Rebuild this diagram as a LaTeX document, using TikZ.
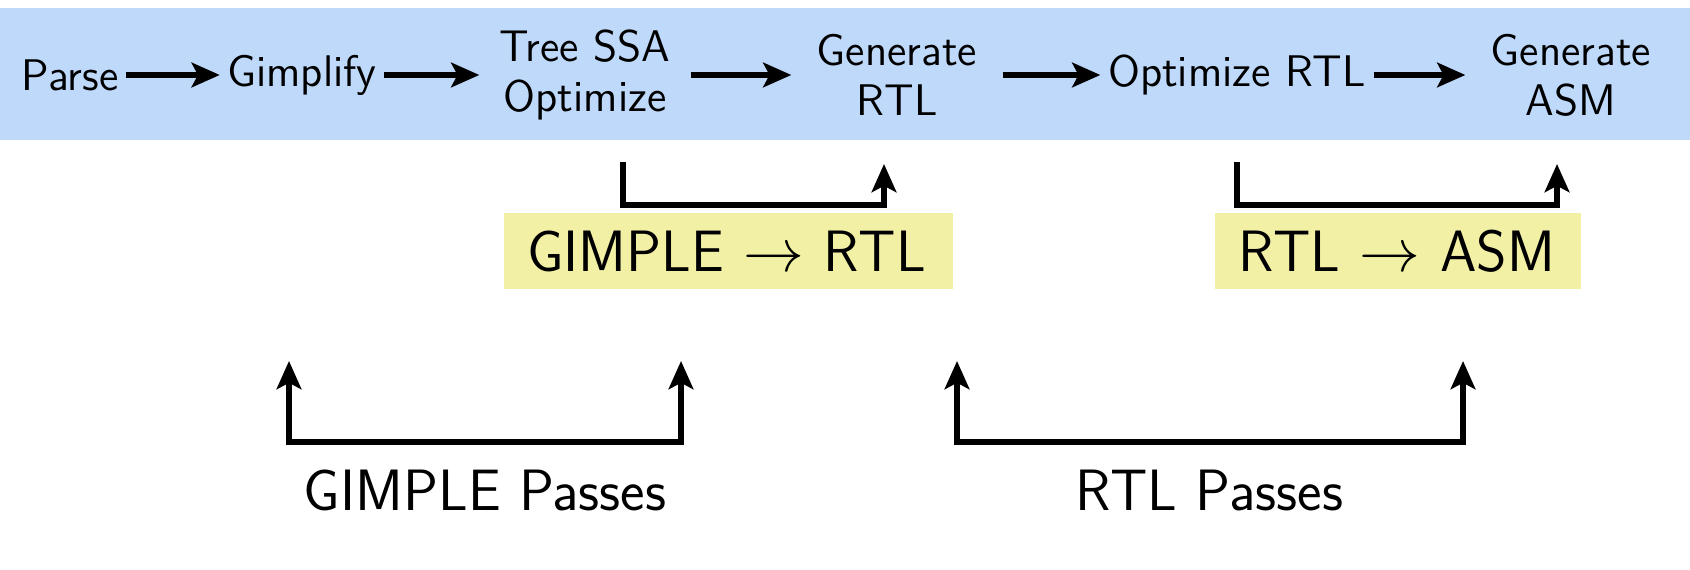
\documentclass[tikz,border=0pt]{standalone}
\usetikzlibrary{arrows.meta,positioning}
\definecolor{bandblue}{RGB}{191,217,250}
\definecolor{boxyellow}{RGB}{242,240,165}

\begin{document}
\begin{tikzpicture}[>={Stealth[length=8pt,width=7pt,inset=1.8pt]},
        font=\sffamily\fontsize{12.6}{14.2}\selectfont,
        stage/.style={inner sep=2pt},
        widestage/.style={minimum width=2.1cm, align=center, inner sep=0pt},
        flow/.style={->, line width=1.45pt},
        pass/.style={->, line width=1.8pt},
        bigtext/.style={font=\sffamily\fontsize{16.6}{19}\selectfont},
        trans/.style={bigtext, fill=boxyellow, minimum height=0.76cm,
            inner xsep=0.23cm, inner ysep=0pt, align=left}]
        \useasboundingbox (0,0) rectangle (16.9,-5.7);
        \node[fill=bandblue, minimum width=16.9cm, minimum height=1.32cm, inner sep=0pt]
            (band) at (8.45,-0.74) {};
        % pipeline
        \node[stage] (parse) at (0.70,-0.75) {Parse};
        \node[stage] (gimp)  at (3.02,-0.75) {Gimplify};
        \node[widestage] (tree) at (5.85,-0.75) {Tree SSA\\Optimize};
        \node[widestage] (genrtl) at (8.97,-0.75) {Generate\\RTL};
        \node[stage] (optrtl) at (12.37,-0.75) {Optimize RTL};
        \node[widestage] (genasm) at (15.71,-0.75) {Generate\\ASM};
        \draw[flow] (parse)  -- (gimp);
        \draw[flow] (gimp)   -- (tree);
        \draw[flow] (tree)   -- (genrtl);
        \draw[flow] (genrtl) -- (optrtl);
        \draw[flow] (optrtl) -- (genasm);
        % lowering steps
        \node[trans, text width=4.03cm] (g2r) at (7.285,-2.51) {GIMPLE $\rightarrow$ RTL};
        \node[trans, text width=3.20cm] (r2a) at (13.98,-2.51) {RTL $\rightarrow$ ASM};
        \coordinate (g2rin)  at (6.23,-1.62);
        \coordinate (g2rout) at (8.84,-1.64);
        \coordinate (r2ain)  at (12.37,-1.62);
        \coordinate (r2aout) at (15.57,-1.64);
        \draw[pass] (g2rin) -- ++(0,-0.43) -| (g2rout);
        \draw[pass] (r2ain) -- ++(0,-0.43) -| (r2aout);
        % pass groups
        \node[bigtext] (gpass) at (4.85,-4.90) {GIMPLE Passes};
        \node[bigtext] (rpass) at (12.09,-4.90) {RTL Passes};
        \coordinate (gl) at (2.89,-3.61);
        \coordinate (gr) at (6.81,-3.61);
        \coordinate (rl) at (9.57,-3.61);
        \coordinate (rr) at (14.63,-3.61);
        \draw[pass,<->] (gl) -- ++(0,-0.81) -| (gr);
        \draw[pass,<->] (rl) -- ++(0,-0.81) -| (rr);
\end{tikzpicture}
\end{document}
